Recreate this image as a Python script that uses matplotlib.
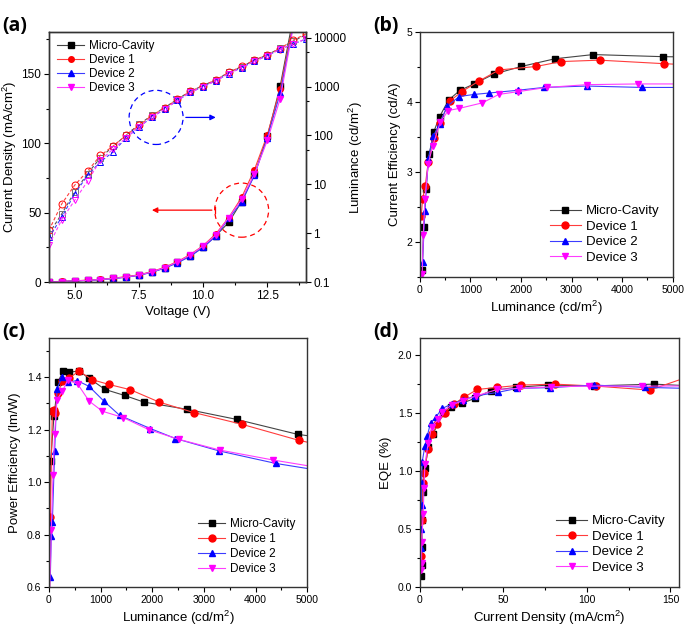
import numpy as np
import matplotlib
matplotlib.use("Agg")
import matplotlib.pyplot as plt
from matplotlib.patches import Ellipse
from matplotlib.ticker import MultipleLocator, FixedLocator, NullFormatter

plt.rcParams['font.family'] = ['Liberation Sans', 'DejaVu Sans']
plt.rcParams['mathtext.default'] = 'regular'

names = ["Micro-Cavity", "Device 1", "Device 2", "Device 3"]
colors = ["black", "red", "blue", "magenta"]
line_colors = ["#444444", "#ff3c3c", "#3c3cff", "#ff3cff"]
markers = ["s", "o", "^", "v"]

# (a) J-V-L
voltage = [4.0, 4.5, 5.0, 5.5, 6.0, 6.5, 7.0, 7.5, 8.0, 8.5, 9.0, 9.5,
           10.0, 10.5, 11.0, 11.5, 12.0, 12.5, 13.0, 13.5, 14.0]
jd_micro = [0.1, 0.4, 0.8, 1.2, 1.8, 2.6, 3.6, 5.0, 7.2, 10.2, 14.2, 19.0,
            25.0, 33.5, 43.0, 58.0, 77.5, 105.0, 141.0, 190.0, 250.0]
jd_dev1 = [0.2, 0.5, 0.9, 1.4, 2.0, 2.8, 3.9, 5.2, 7.5, 10.6, 14.8, 19.8,
           26.2, 34.8, 46.5, 61.0, 81.0, 106.0, 139.0, 186.0, 245.0]
jd_dev2 = [0.1, 0.4, 0.8, 1.2, 1.7, 2.5, 3.5, 4.8, 7.0, 10.0, 13.8, 18.5,
           25.0, 33.0, 46.0, 57.5, 77.0, 104.0, 136.0, 184.0, 240.0]
jd_dev3 = [0.1, 0.4, 0.8, 1.3, 1.8, 2.6, 3.7, 5.0, 7.3, 10.4, 14.5, 19.5,
           26.0, 34.0, 46.5, 59.5, 78.0, 102.0, 132.0, 183.0, 238.0]
lum_micro = [0.98, 2.5, 7.0, 16.5, 35, 60, 101, 168, 257, 370, 555, 800,
             1050, 1380, 1950, 2570, 3460, 4470, 6100, 8500, 11500]
lum_dev1 = [1.15, 4.0, 9.6, 18.6, 39, 61, 101, 160, 255, 365, 550, 800,
            1050, 1380, 1950, 2600, 3500, 4500, 6000, 8900, 12000]
lum_dev2 = [0.82, 2.15, 6.4, 15.2, 29, 46, 89, 148, 235, 345, 520, 760,
            1000, 1320, 1850, 2450, 3300, 4300, 5800, 7400, 9400]
lum_dev3 = [0.57, 1.9, 4.7, 11.5, 31, 53, 89, 150, 235, 345, 520, 760,
            1000, 1320, 1850, 2450, 3300, 4300, 5800, 7400, 9500]

# (b) current efficiency vs luminance
ce_lum_micro = [46, 72, 118, 184, 276, 388, 566, 796, 1072, 1460, 2007, 2671, 3428, 4803, 6000]
ce_micro = [1.60, 2.21, 2.76, 3.26, 3.58, 3.79, 4.03, 4.17, 4.26, 4.40, 4.51, 4.62, 4.68, 4.65, 4.64]
ce_lum_dev1 = [26, 53, 105, 164, 270, 388, 599, 829, 1164, 1566, 2303, 2796, 3553, 4822, 6000]
ce_dev1 = [2.37, 2.62, 2.80, 3.14, 3.49, 3.70, 4.02, 4.15, 4.30, 4.46, 4.51, 4.58, 4.60, 4.55, 4.51]
ce_lum_dev2 = [53, 99, 164, 263, 388, 539, 776, 1072, 1362, 1941, 2454, 3303, 4388, 6000]
ce_dev2 = [1.72, 2.45, 3.19, 3.51, 3.69, 3.94, 4.08, 4.11, 4.13, 4.17, 4.21, 4.23, 4.21, 4.21]
ce_lum_dev3 = [46, 66, 99, 164, 257, 401, 559, 776, 1237, 1559, 1941, 2507, 3309, 4309, 6000]
ce_dev3 = [1.55, 2.10, 2.61, 3.12, 3.38, 3.71, 3.88, 3.91, 3.99, 4.11, 4.15, 4.21, 4.25, 4.26, 4.26]

# (c) power efficiency vs luminance
pe_lum_micro = [10, 32, 97, 174, 271, 388, 581, 775, 1085, 1466, 1835, 2681, 3631, 4813, 6000]
pe_micro = [0.55, 1.08, 1.252, 1.381, 1.423, 1.419, 1.423, 1.396, 1.353, 1.330, 1.305, 1.277, 1.239, 1.182, 1.15]
pe_lum_dev1 = [26, 65, 90, 110, 174, 258, 388, 581, 840, 1163, 1576, 2132, 2804, 3740, 4839, 6000]
pe_dev1 = [0.865, 1.270, 1.276, 1.263, 1.339, 1.385, 1.396, 1.423, 1.390, 1.372, 1.352, 1.305, 1.265, 1.220, 1.159, 1.11]
pe_lum_dev2 = [26, 45, 65, 110, 155, 258, 368, 543, 775, 1066, 1370, 1964, 2448, 3288, 4393, 6000]
pe_dev2 = [0.640, 0.796, 0.846, 1.119, 1.356, 1.402, 1.381, 1.387, 1.365, 1.308, 1.254, 1.204, 1.166, 1.119, 1.071, 1.02]
pe_lum_dev3 = [10, 45, 78, 110, 155, 258, 368, 562, 775, 1034, 1434, 1931, 2513, 3308, 4341, 6000]
pe_dev3 = [0.55, 0.818, 1.027, 1.185, 1.314, 1.346, 1.390, 1.372, 1.309, 1.270, 1.246, 1.200, 1.163, 1.122, 1.084, 1.03]

# (d) EQE vs current density
eqe_j_micro = [0.4, 1.0, 1.4, 1.0, 1.8, 3.0, 5.0, 7.8, 13.8, 18.4, 24.9, 32.9, 42.3, 57.3, 76.6, 104.0, 140.0, 170.0]
eqe_micro = [0.092, 0.19, 0.344, 0.574, 0.818, 1.024, 1.205, 1.320, 1.498, 1.55, 1.584, 1.627, 1.693, 1.722, 1.742, 1.735, 1.750, 1.73]
eqe_j_dev1 = [0.4, 1.0, 1.8, 2.4, 5.0, 7.4, 10.4, 15.0, 20.3, 26.3, 34.3, 46.3, 60.8, 80.8, 105.5, 137.6, 172.0]
eqe_dev1 = [0.27, 0.574, 0.90, 0.987, 1.188, 1.32, 1.406, 1.504, 1.578, 1.636, 1.704, 1.722, 1.742, 1.750, 1.733, 1.699, 1.87]
eqe_j_dev2 = [0.4, 0.4, 1.0, 1.0, 1.4, 3.0, 4.4, 6.4, 9.4, 13.4, 19.0, 25.7, 32.9, 47.0, 58.0, 78.0, 104.0, 135.0, 170.0]
eqe_dev2 = [0.336, 0.50, 0.709, 0.90, 1.082, 1.217, 1.303, 1.417, 1.463, 1.541, 1.578, 1.613, 1.647, 1.68, 1.713, 1.72, 1.742, 1.722, 1.71]
eqe_j_dev3 = [0.4, 1.0, 1.0, 2.0, 2.4, 3.0, 5.0, 7.0, 11.0, 13.4, 19.0, 25.7, 33.3, 46.3, 59.2, 78.2, 101.1, 132.7, 170.0]
eqe_dev3 = [0.149, 0.207, 0.385, 0.628, 0.852, 1.059, 1.245, 1.383, 1.446, 1.512, 1.57, 1.607, 1.647, 1.704, 1.713, 1.727, 1.733, 1.733, 1.735]

fig = plt.figure(figsize=(6.85, 6.31), dpi=100)

tick_kw = dict(direction="out", length=3.5, width=0.8, labelsize=7.5, pad=2)
minor_kw = dict(direction="out", length=2, width=0.8)


def style_axes(ax):
    for sp in ax.spines.values():
        sp.set_color("#333333")
        sp.set_linewidth(1.0)
    ax.tick_params(which="major", **tick_kw)
    ax.tick_params(which="minor", **minor_kw)
    ax.tick_params(top=False, right=False, which="both")


def draw_series(ax, xs, ys, ms=5, lw=0.8):
    handles = []
    for x, y, c, lc, m, n in zip(xs, ys, colors, line_colors, markers, names):
        h, = ax.plot(x, y, color=lc, lw=lw, marker=m, ms=ms, mfc=c, mec=c, label=n)
        handles.append(h)
    return handles


# ---------------- (a)
ax = fig.add_axes([0.0715, 0.553, 0.375, 0.396])
style_axes(ax)
ax.tick_params(labelsize=8.5)
jd_all = [jd_micro, jd_dev1, jd_dev2, jd_dev3]
hs = draw_series(ax, [voltage] * 4, jd_all, ms=4)
ax.set_xlim(4, 14)
ax.set_ylim(0, 180)
ax.xaxis.set_major_locator(FixedLocator([5.0, 7.5, 10.0, 12.5]))
ax.xaxis.set_minor_locator(MultipleLocator(1.25))
ax.yaxis.set_major_locator(MultipleLocator(50))
ax.yaxis.set_minor_locator(MultipleLocator(25))
ax.set_xticklabels(["5.0", "7.5", "10.0", "12.5"])
ax.set_xlabel("Voltage (V)", fontsize=9.5, labelpad=3)
ax.set_ylabel("Current Density (mA/cm$^2$)", fontsize=9.5, labelpad=2)

ax.add_patch(Ellipse((8.17, 118.6), 2.1, 39, fill=False, ec="blue", ls=(0, (4, 3)), lw=0.9))
ax.add_patch(Ellipse((11.5, 51.8), 2.1, 39, fill=False, ec="red", ls=(0, (4, 3)), lw=0.9))
ax.annotate("", xy=(10.6, 118.6), xytext=(9.22, 118.6),
            arrowprops=dict(arrowstyle="-|>", color="blue", lw=0.9, mutation_scale=8))
ax.annotate("", xy=(7.9, 51.8), xytext=(10.45, 51.8),
            arrowprops=dict(arrowstyle="-|>", color="red", lw=0.9, mutation_scale=8))
ax.plot([10.45, 10.45], [49.5, 54.1], color="red", lw=0.9)

ax2 = ax.twinx()
for sp in ax2.spines.values():
    sp.set_color("#333333")
    sp.set_linewidth(1.0)
lum_all = [lum_micro, lum_dev1, lum_dev2, lum_dev3]
lum_line_colors = ["#555555", "#ff3c3c", "#3c3cff", "#ff3cff"]
open_colors = ["#777777", "red", "blue", "magenta"]
for y, c, lc, m in zip(lum_all, open_colors, lum_line_colors, markers):
    ax2.plot(voltage, y, color=lc, lw=0.8, ls=(0, (3, 2)), marker=m, ms=5,
             mfc="none", mec=c, mew=0.7)
ax2.set_yscale("log")
ax2.set_ylim(0.1, 13000)
ax2.yaxis.set_major_locator(FixedLocator([0.1, 1, 10, 100, 1000, 10000]))
ax2.set_yticklabels(["0.1", "1", "10", "100", "1000", "10000"])
ax2.yaxis.set_minor_locator(FixedLocator([0.5, 5, 50, 500, 5000]))
ax2.yaxis.set_minor_formatter(NullFormatter())
ax2.tick_params(which="major", direction="out", length=3.5, width=0.8, labelsize=8.5, pad=2)
ax2.tick_params(which="minor", direction="out", length=2, width=0.8)
ax2.set_ylabel("Luminance (cd/m$^2$)", fontsize=9.5, labelpad=0)
ax2.legend(handles=hs, loc="upper left", frameon=False, fontsize=8.5,
           handlelength=2.3, labelspacing=0.15, borderaxespad=0.3, handletextpad=0.4)

# ---------------- (b)
ax = fig.add_axes([0.613, 0.561, 0.369, 0.388])
style_axes(ax)
draw_series(ax, [ce_lum_micro, ce_lum_dev1, ce_lum_dev2, ce_lum_dev3],
            [ce_micro, ce_dev1, ce_dev2, ce_dev3])
ax.set_xlim(0, 5000)
ax.set_ylim(1.5, 5)
ax.xaxis.set_major_locator(MultipleLocator(1000))
ax.xaxis.set_minor_locator(MultipleLocator(500))
ax.yaxis.set_major_locator(MultipleLocator(1))
ax.yaxis.set_minor_locator(MultipleLocator(0.5))
ax.set_xlabel("Luminance (cd/m$^2$)", fontsize=9.5, labelpad=3)
ax.set_ylabel("Current Efficiency (cd/A)", fontsize=9.5, labelpad=4)
ax.legend(loc="lower right", frameon=False, fontsize=9.5, handlelength=2.3,
          labelspacing=0.25, borderaxespad=0.6, handletextpad=0.4)

# ---------------- (c)
ax = fig.add_axes([0.0715, 0.0697, 0.377, 0.395])
style_axes(ax)
draw_series(ax, [pe_lum_micro, pe_lum_dev1, pe_lum_dev2, pe_lum_dev3],
            [pe_micro, pe_dev1, pe_dev2, pe_dev3])
ax.set_xlim(0, 5000)
ax.set_ylim(0.6, 1.55)
ax.xaxis.set_major_locator(MultipleLocator(1000))
ax.xaxis.set_minor_locator(MultipleLocator(500))
ax.yaxis.set_major_locator(MultipleLocator(0.2))
ax.yaxis.set_minor_locator(MultipleLocator(0.1))
ax.set_xlabel("Luminance (cd/m$^2$)", fontsize=9.5, labelpad=3)
ax.set_ylabel("Power Efficiency (lm/W)", fontsize=9.5, labelpad=4)
ax.legend(loc="lower right", frameon=False, fontsize=8.5, handlelength=2.3,
          labelspacing=0.25, borderaxespad=0.6, handletextpad=0.4)

# ---------------- (d)
ax = fig.add_axes([0.613, 0.0697, 0.378, 0.395])
style_axes(ax)
draw_series(ax, [eqe_j_micro, eqe_j_dev1, eqe_j_dev2, eqe_j_dev3],
            [eqe_micro, eqe_dev1, eqe_dev2, eqe_dev3])
ax.set_xlim(0, 155)
ax.set_ylim(0, 2.15)
ax.xaxis.set_major_locator(MultipleLocator(50))
ax.xaxis.set_minor_locator(MultipleLocator(25))
ax.yaxis.set_major_locator(MultipleLocator(0.5))
ax.yaxis.set_minor_locator(MultipleLocator(0.25))
ax.set_xlabel("Current Density (mA/cm$^2$)", fontsize=9.5, labelpad=3)
ax.set_ylabel("EQE (%)", fontsize=9.5, labelpad=4)
ax.legend(loc="lower right", frameon=False, fontsize=9.5, handlelength=2.3,
          labelspacing=0.25, borderaxespad=0.6, handletextpad=0.4)

# panel letters
for lbl, x, y in [("(a)", 0.004, 0.975), ("(b)", 0.545, 0.975),
                  ("(c)", 0.004, 0.49), ("(d)", 0.545, 0.49)]:
    fig.text(x, y, lbl, fontsize=14, fontweight="bold", va="top", ha="left",
             family=["Open Sans", "DejaVu Sans"])

fig.savefig("out.png", dpi=100)
